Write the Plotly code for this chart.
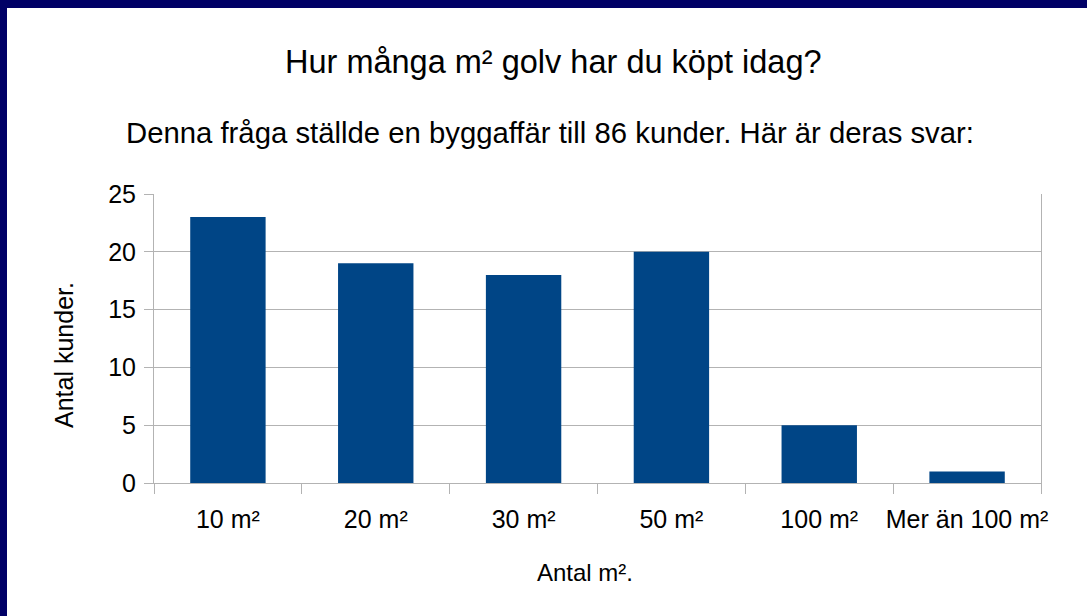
import plotly.graph_objects as go

categories = ["10 m²", "20 m²", "30 m²", "50 m²", "100 m²", "Mer än 100 m²"]
values = [23, 19, 18, 20, 5, 1]
y_ticks = [0, 5, 10, 15, 20, 25]

W, H = 1087, 616
L, R, T, B = 154, 46, 194, 133
PW = W - L - R
PH = H - T - B
FONT = "Liberation Sans, Arial, sans-serif"
GRID = "#b3b3b3"

def px_x(x):
    return (x - L) / PW

def px_y(y):
    return (H - B - y) / PH

fig = go.Figure(go.Bar(x=categories, y=values, marker_color="#004586",
                       marker_line_width=0, width=0.51))

def ann(text, x, y, size, angle=0):
    return dict(text=text, xref="paper", yref="paper", x=px_x(x), y=px_y(y),
                xanchor="center", yanchor="middle", showarrow=False,
                textangle=angle, font=dict(size=size, family=FONT))

fig.update_layout(
    width=W, height=H,
    margin=dict(l=L, r=R, t=T, b=B, autoexpand=False),
    paper_bgcolor="white", plot_bgcolor="white",
    showlegend=False,
    font=dict(family=FONT, color="black"),
    xaxis=dict(type="category", range=[-0.5, 5.5], showgrid=False,
               showline=True, linecolor=GRID, linewidth=1,
               ticks="outside", tickson="boundaries", ticklen=10,
               tickcolor=GRID, tickfont=dict(size=25, family=FONT),
               tickangle=0, automargin=False, ticklabelstandoff=14),
    yaxis=dict(range=[0, 25], tickvals=y_ticks, showgrid=True, gridcolor=GRID,
               showline=True, mirror=True, linecolor=GRID, linewidth=1,
               ticks="outside", ticklen=9, tickcolor=GRID,
               tickfont=dict(size=25, family=FONT), zeroline=False,
               automargin=False, ticklabelstandoff=3),
    annotations=[
        ann("Hur många m² golv har du köpt idag?", 553, 62, 32.5),
        ann("Denna fråga ställde en byggaffär till 86 kunder. Här är deras svar:", 550, 132, 29.3),
        ann("Antal kunder.", 64, 355, 25, -90),
        ann("Antal m².", 585, 572, 24),
    ],
    shapes=[
        dict(type="rect", xref="paper", yref="paper", xsizemode="pixel", ysizemode="pixel",
             xanchor=0, yanchor=0, x0=-L, x1=-L + 7, y0=-B, y1=H - B,
             fillcolor="#000066", line_width=0, layer="above"),
        dict(type="rect", xref="paper", yref="paper", xsizemode="pixel", ysizemode="pixel",
             xanchor=0, yanchor=0, x0=-L, x1=W - L, y0=H - B - 8, y1=H - B,
             fillcolor="#000066", line_width=0, layer="above"),
    ],
)

fig.write_html("out.html", config={"displayModeBar": False},
               post_script="document.body.style.margin='0';")
